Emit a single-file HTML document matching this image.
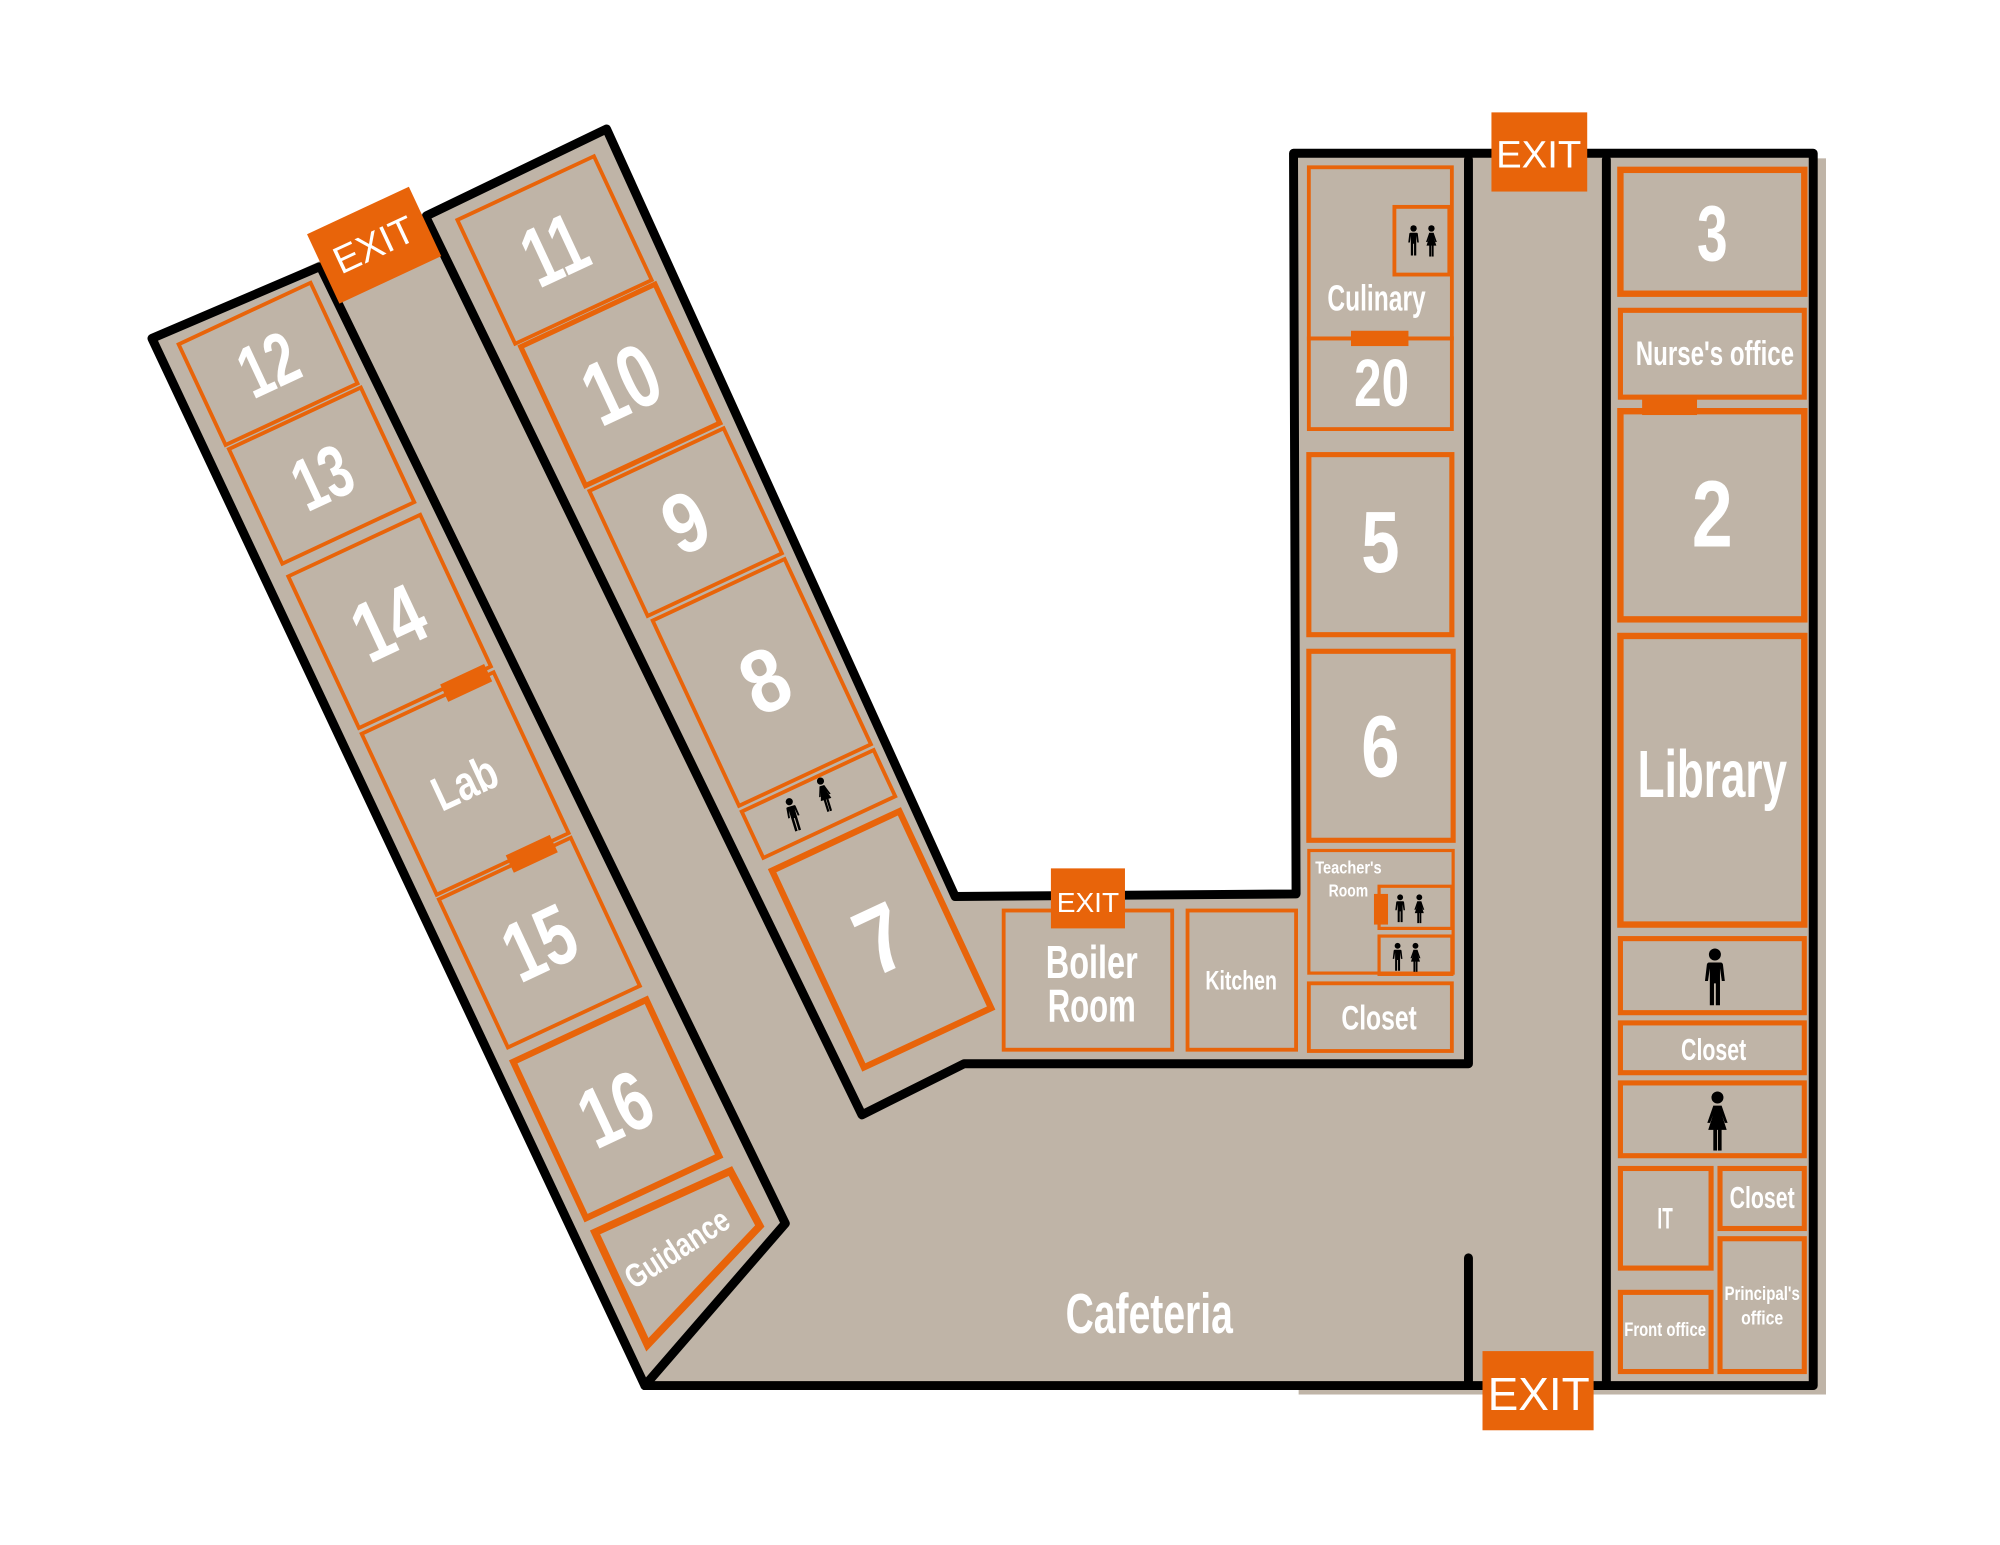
<!DOCTYPE html>
<html><head><meta charset="utf-8"><style>
html,body{margin:0;padding:0;background:#fff;}
svg{display:block;}
.t{font-family:"Liberation Sans Narrow","Liberation Sans",sans-serif;font-weight:bold;fill:#fff;text-anchor:middle;}
.e{font-family:"Liberation Sans",sans-serif;fill:#fff;text-anchor:middle;}
</style></head><body>
<svg width="2000" height="1545" viewBox="0 0 1560 1205" preserveAspectRatio="none" xmlns="http://www.w3.org/2000/svg">
<defs>
<symbol id="m" viewBox="0 0 10 26"><circle cx="5" cy="3" r="2.6"/><path d="M2.5 6.5h5a1 1 0 0 1 1 1l0.8 7h-1.3l-0.8-5.5v16h-1.8v-9.5h-0.8v9.5h-1.8v-16l-0.8 5.5h-1.3l0.8-7a1 1 0 0 1 1-1z"/></symbol>
<symbol id="w" viewBox="0 0 10 26"><circle cx="5" cy="3" r="2.6"/><path d="M3.2 6.5h3.6l1.2 3.5 1.4 4h-1.2l-1.2-3.2 2 6.2h-2.2v9h-1.6v-9h-0.4v9h-1.6v-9h-2.2l2-6.2-1.2 3.2h-1.2l1.4-4z"/></symbol>
</defs>
<g transform="scale(0.996)">
<!-- fill -->
<rect x="1017" y="124" width="413" height="968" fill="#BFB4A7"/>
<polygon points="119,265 475,101 748,702 1015,700 1015,120 1420,120 1420,1085 505,1085" fill="#BFB4A7"/>

<g fill="none" stroke="#E8640A">
<g transform="translate(119,265) rotate(-25)">
 <rect x="17" y="13" width="114" height="87" stroke-width="3"/>
 <rect x="18" y="104" width="114" height="99" stroke-width="3"/>
 <rect x="18" y="214" width="114" height="131" stroke-width="3"/>
 <rect x="18" y="350" width="114" height="139" stroke-width="3"/>
 <rect x="18" y="493" width="114" height="128" stroke-width="3"/>
 <rect x="17" y="633" width="115" height="135" stroke-width="5"/>
 <rect x="256" y="17" width="118" height="107" stroke-width="3"/>
 <rect x="259" y="128" width="116" height="120" stroke-width="4"/>
 <rect x="260" y="253" width="116" height="108" stroke-width="3"/>
 <rect x="262" y="366" width="114" height="160" stroke-width="3"/>
 <rect x="262" y="531" width="114" height="40" stroke-width="3"/>
 <rect x="264" y="583" width="110" height="170" stroke-width="5"/>
</g>
<polygon points="466,965 572,917 595,960 507,1053" stroke-width="6"/>
<rect x="1025" y="131" width="112" height="134" stroke-width="3"/>
<rect x="1092" y="162" width="43" height="53" stroke-width="3"/>
<rect x="1025" y="265" width="112" height="71" stroke-width="3"/>
<rect x="1025" y="356" width="112" height="141" stroke-width="4"/>
<rect x="1025" y="510" width="113" height="148" stroke-width="4"/>
<rect x="1025" y="666" width="113" height="96" stroke-width="2.5"/>
<rect x="1080" y="694" width="57" height="33" stroke-width="2.5"/>
<rect x="1080" y="733" width="57" height="30" stroke-width="2.5"/>
<rect x="1025" y="770" width="112" height="53" stroke-width="3"/>
<rect x="786" y="713" width="132" height="109" stroke-width="3"/>
<rect x="930" y="713" width="85" height="109" stroke-width="3"/>
<rect x="1269" y="133" width="144" height="97" stroke-width="5"/>
<rect x="1269" y="243" width="144" height="68" stroke-width="4"/>
<rect x="1269" y="322" width="144" height="163" stroke-width="5"/>
<rect x="1269" y="498" width="144" height="226" stroke-width="5"/>
<rect x="1269" y="735" width="144" height="58" stroke-width="4"/>
<rect x="1269" y="801" width="144" height="39" stroke-width="4"/>
<rect x="1269" y="848" width="144" height="57" stroke-width="4"/>
<rect x="1269" y="915" width="71" height="78" stroke-width="4"/>
<rect x="1347" y="915" width="66" height="47" stroke-width="4"/>
<rect x="1347" y="970" width="66" height="104" stroke-width="4"/>
<rect x="1269" y="1012" width="71" height="62" stroke-width="4"/>
</g>
<g fill="#E8640A">
<g transform="translate(119,265) rotate(-25)">
 <rect x="90" y="341" width="38" height="15"/>
 <rect x="80" y="484" width="38" height="15"/>
</g>
<rect x="1058" y="259" width="45" height="12"/>
<rect x="1286" y="311" width="43" height="14"/>
<rect x="1076" y="700" width="11" height="24"/>
</g>

<g fill="none" stroke="#000" stroke-width="7" stroke-linejoin="round" stroke-linecap="round">
<polyline points="250,209 119,265 505,1085 1420,1085 1420,120 1013,120 1015,700 748,702 475,101 334,169"/>
<polyline points="251,209 615,958 505,1085"/>
<polyline points="334,171 675,873 755,833 1150,833 1150,125"/>
<line x1="1258" y1="125" x2="1258" y2="1085"/>
<line x1="1150" y1="985" x2="1150" y2="1085"/>
</g>

<g transform="translate(293,192) rotate(-25)"><rect x="-44" y="-30" width="88" height="60" fill="#E8640A"/><text class="e" x="0" y="10" font-size="30">EXIT</text></g>
<rect x="1168" y="88" width="75" height="62" fill="#E8640A"/><text class="e" x="1205" y="131" font-size="30">EXIT</text>
<rect x="823" y="680" width="58" height="47" fill="#E8640A"/><text class="e" x="852" y="714" font-size="22">EXIT</text>
<rect x="1161" y="1058" width="87" height="62" fill="#E8640A"/><text class="e" x="1205" y="1104" font-size="36">EXIT</text>

<g transform="translate(119,265) rotate(-25)">
 <text class="t" x="74" y="77" font-size="58" textLength="45" lengthAdjust="spacingAndGlyphs">12</text>
 <text class="t" x="75" y="175" font-size="58" textLength="45" lengthAdjust="spacingAndGlyphs">13</text>
 <text class="t" x="74" y="303" font-size="66" textLength="55" lengthAdjust="spacingAndGlyphs">14</text>
 <text class="t" x="75" y="432" font-size="38" textLength="52" lengthAdjust="spacingAndGlyphs">Lab</text>
 <text class="t" x="75" y="580" font-size="66" textLength="55" lengthAdjust="spacingAndGlyphs">15</text>
 <text class="t" x="74" y="723" font-size="66" textLength="55" lengthAdjust="spacingAndGlyphs">16</text>
 <text class="t" x="315" y="93" font-size="66" textLength="48" lengthAdjust="spacingAndGlyphs">11</text>
 <text class="t" x="318" y="212" font-size="70" textLength="58" lengthAdjust="spacingAndGlyphs">10</text>
 <text class="t" x="318" y="330" font-size="66" textLength="32" lengthAdjust="spacingAndGlyphs">9</text>
 <text class="t" x="322" y="470" font-size="70" textLength="34" lengthAdjust="spacingAndGlyphs">8</text>
 <text class="t" x="319" y="693" font-size="74" textLength="36" lengthAdjust="spacingAndGlyphs">7</text>
 <g transform="translate(302,551) rotate(8)"><use href="#m" x="-10" y="-14" width="11" height="28"/></g>
 <g transform="translate(326,546) rotate(8)"><use href="#w" x="-5" y="-14" width="11" height="28"/></g>
</g>
<text class="t" transform="translate(535,985) rotate(-33)" x="0" y="0" font-size="26" textLength="92" lengthAdjust="spacingAndGlyphs">Guidance</text>

<text class="t" x="1078" y="243" font-size="28" textLength="77" lengthAdjust="spacingAndGlyphs">Culinary</text>
<text class="t" x="1082" y="318" font-size="52" textLength="43" lengthAdjust="spacingAndGlyphs">20</text>
<text class="t" x="1081" y="448" font-size="68" textLength="30" lengthAdjust="spacingAndGlyphs">5</text>
<text class="t" x="1081" y="608" font-size="68" textLength="30" lengthAdjust="spacingAndGlyphs">6</text>
<text class="t" x="1056" y="684" font-size="14" textLength="52" lengthAdjust="spacingAndGlyphs">Teacher's</text>
<text class="t" x="1056" y="702" font-size="14" textLength="31" lengthAdjust="spacingAndGlyphs">Room</text>
<text class="t" x="1080" y="806" font-size="27" textLength="59" lengthAdjust="spacingAndGlyphs">Closet</text>
<text class="t" x="855" y="766" font-size="36" textLength="72" lengthAdjust="spacingAndGlyphs">Boiler</text>
<text class="t" x="855" y="800" font-size="36" textLength="69" lengthAdjust="spacingAndGlyphs">Room</text>
<text class="t" x="972" y="775" font-size="21" textLength="56" lengthAdjust="spacingAndGlyphs">Kitchen</text>
<text class="t" x="900" y="1044" font-size="44" textLength="131" lengthAdjust="spacingAndGlyphs">Cafeteria</text>
<use href="#m" x="1102" y="176" width="10" height="25"/><use href="#w" x="1116" y="176" width="10" height="25"/>
<use href="#m" x="1092" y="700" width="9" height="23"/><use href="#w" x="1107" y="700" width="9" height="23"/>
<use href="#m" x="1090" y="738" width="9" height="23"/><use href="#w" x="1104" y="738" width="9" height="23"/>

<text class="t" x="1341" y="204" font-size="62" textLength="24" lengthAdjust="spacingAndGlyphs">3</text>
<text class="t" x="1343" y="286" font-size="27" textLength="124" lengthAdjust="spacingAndGlyphs">Nurse's office</text>
<text class="t" x="1341" y="428" font-size="74" textLength="32" lengthAdjust="spacingAndGlyphs">2</text>
<text class="t" x="1341" y="624" font-size="52" textLength="117" lengthAdjust="spacingAndGlyphs">Library</text>
<text class="t" x="1342" y="830" font-size="24" textLength="51" lengthAdjust="spacingAndGlyphs">Closet</text>
<text class="t" x="1304" y="962" font-size="23" textLength="12" lengthAdjust="spacingAndGlyphs">IT</text>
<text class="t" x="1380" y="946" font-size="24" textLength="51" lengthAdjust="spacingAndGlyphs">Closet</text>
<text class="t" x="1380" y="1018" font-size="15" textLength="59" lengthAdjust="spacingAndGlyphs">Principal's</text>
<text class="t" x="1380" y="1037" font-size="15" textLength="33" lengthAdjust="spacingAndGlyphs">office</text>
<text class="t" x="1304" y="1046" font-size="15" textLength="64" lengthAdjust="spacingAndGlyphs">Front office</text>
<use href="#m" x="1333" y="742" width="20" height="47"/>
<use href="#w" x="1335" y="854" width="20" height="47"/>
</g>
</svg>
</body></html>
